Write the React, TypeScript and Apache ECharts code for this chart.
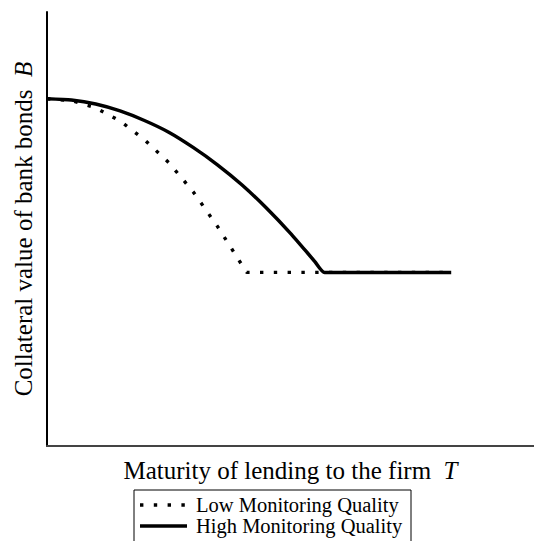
import React, { useEffect, useRef } from "react";
import * as echarts from "echarts";

const lowX = [0, 5, 10, 15, 20, 25, 30, 35, 41, 83];
const lowY = [80, 79.6, 77.9, 74.9, 70.6, 65.3, 58.6, 50.6, 40, 40];
const highX = [0, 5, 10, 15, 20, 25, 30, 35, 40, 45, 50, 55, 57, 83];
const highY = [80, 79.7, 78.8, 77.2, 75.0, 72.3, 68.8, 64.8, 60.2, 54.9, 49.0, 42.5, 40, 40];
const seriesNames = ["Low Monitoring Quality", "High Monitoring Quality"];
const xTitle = "Maturity of lending to the firm  {i|T}";
const yTitle = "Collateral value of bank bonds  {i|B}";

const FONT = "'Liberation Serif', 'Times New Roman', serif";
const DOT = [3.4, 10.4];

export default function App() {
  const ref = useRef<HTMLDivElement>(null);
  useEffect(() => {
    document.body.style.margin = "0";
    const chart = echarts.init(ref.current!, null, { renderer: "svg" });
    const pairs = (xs: number[], ys: number[]) => xs.map((x, i) => [x, ys[i]]);
    const lg = { x: 134, y: 490, w: 277, h: 70, symX: 140, symW: 47, textX: 196, row1: 505, row2: 526 };
    chart.setOption({
      animation: false,
      backgroundColor: "#ffffff",
      textStyle: { fontFamily: FONT },
      grid: { left: 47, top: 12, right: 0, bottom: 95 },
      xAxis: {
        type: "value",
        min: 0,
        max: 100,
        axisLine: { show: true, onZero: false, lineStyle: { color: "#444", width: 2 } },
        axisTick: { show: false },
        axisLabel: { show: false },
        splitLine: { show: false },
        name: xTitle,
        nameLocation: "middle",
        nameGap: 12,
        nameTextStyle: {
          fontFamily: FONT,
          fontSize: 25,
          color: "#000",
          verticalAlign: "top",
          rich: { i: { fontStyle: "italic", fontFamily: FONT, fontSize: 25, color: "#000" } },
        },
      },
      yAxis: {
        type: "value",
        min: 0,
        max: 100,
        axisLine: { show: true, onZero: false, lineStyle: { color: "#000", width: 2 } },
        axisTick: { show: false },
        axisLabel: { show: false },
        splitLine: { show: false },
        name: yTitle,
        nameLocation: "middle",
        nameGap: 11,
        nameTextStyle: {
          fontFamily: FONT,
          fontSize: 25,
          color: "#000",
          rich: { i: { fontStyle: "italic", fontFamily: FONT, fontSize: 25, color: "#000" } },
        },
      },
      graphic: [
        {
          type: "rect",
          shape: { x: lg.x, y: lg.y, width: lg.w, height: lg.h },
          style: { fill: "#fff", stroke: "#000", lineWidth: 1 },
        },
        {
          type: "line",
          shape: { x1: lg.symX, y1: lg.row1, x2: lg.symX + lg.symW, y2: lg.row1 },
          style: { stroke: "#000", lineWidth: 3.4, lineDash: DOT, lineCap: "butt" },
        },
        {
          type: "line",
          shape: { x1: lg.symX, y1: lg.row2, x2: lg.symX + lg.symW, y2: lg.row2 },
          style: { stroke: "#000", lineWidth: 3.5 },
        },
        {
          type: "text",
          x: lg.textX,
          y: lg.row1,
          style: { text: seriesNames[0], font: `20.5px ${FONT}`, fill: "#000", verticalAlign: "middle", align: "left" },
        },
        {
          type: "text",
          x: lg.textX,
          y: lg.row2,
          style: { text: seriesNames[1], font: `20.5px ${FONT}`, fill: "#000", verticalAlign: "middle", align: "left" },
        },
      ],
      series: [
        {
          name: seriesNames[0],
          type: "line",
          data: pairs(lowX, lowY),
          showSymbol: false,
          symbol: "none",
          lineStyle: { color: "#000", width: 3.4, type: DOT, cap: "butt" },
          itemStyle: { color: "#000" },
        },
        {
          name: seriesNames[1],
          type: "line",
          data: pairs(highX, highY),
          showSymbol: false,
          symbol: "none",
          smooth: 0.2,
          lineStyle: { color: "#000", width: 3.5 },
          itemStyle: { color: "#000" },
        },
      ],
    });
    return () => chart.dispose();
  }, []);
  return <div ref={ref} style={{ width: 534, height: 541 }} />;
}
